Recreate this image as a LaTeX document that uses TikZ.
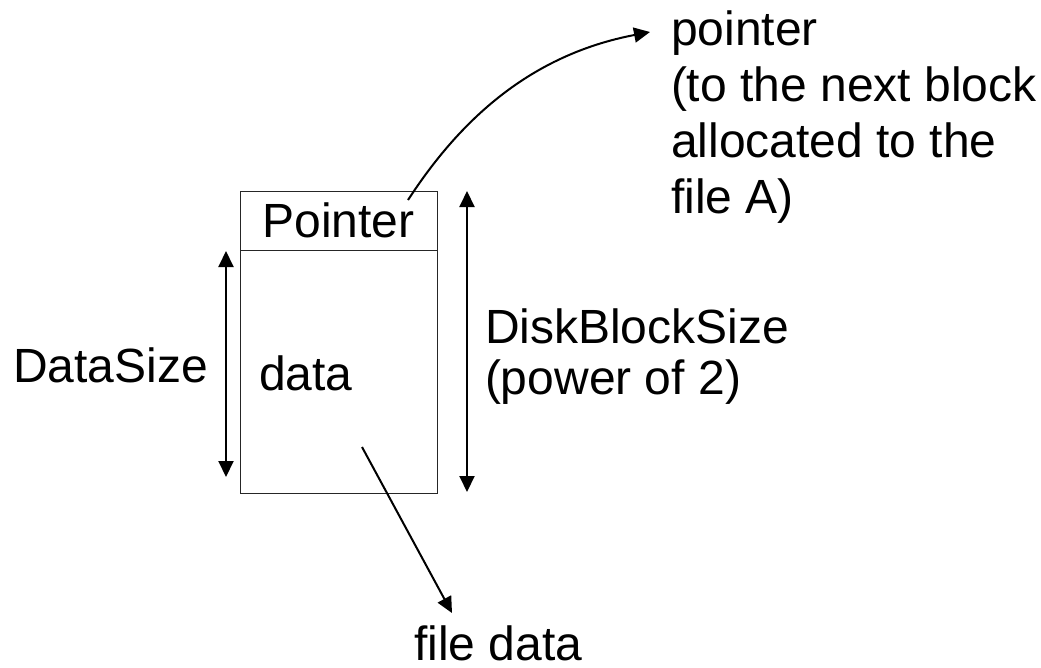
\documentclass[tikz,border=0pt]{standalone}
\usepackage{fontspec}
\setmainfont{Liberation Sans}
\usetikzlibrary{arrows.meta}
\begin{document}
\begin{tikzpicture}[x=1pt,y=-1pt,
  every node/.style={inner sep=0pt, outer sep=0pt, font=\fontsize{48}{56}\selectfont},
  cell/.style={draw=black!85, line width=1pt, minimum width=197pt, anchor=north west},
  label/.style={anchor=base west},
  block/.style={anchor=base west, align=left},
  arrowline/.style={line width=2pt, -{Triangle[length=16pt,width=15pt]}},
  dimline/.style={line width=2pt, {Triangle[length=16pt,width=15pt]}-{Triangle[length=16pt,width=15pt]}}]
  \useasboundingbox[fill=white] (0,0) rectangle (1041,667);

  % the disk block: pointer cell on top of the data cell
  \node[cell, minimum height=59pt] (ptrcell) at (240,191) {Pointer};
  \node[cell, minimum height=243pt] (datacell) at (240,250) {};
  \node[label] (datatext) at (259,390) {data};

  % labels (a multi-line block is placed by the baseline of its last line)
  \node[label] (datasize) at (13,382) {DataSize};
  \node[block, font=\fontsize{48}{51}\selectfont] (dbsize) at (485,394) {DiskBlockSize\\(power of 2)};
  \node[block] (ptrnote) at (671,213) {pointer\\(to the next block\\allocated to the\\file A)};
  \node[label] (filedata) at (414,660) {file data};

  % connector end points
  \coordinate (dsTop) at (226,251);
  \coordinate (dsBot) at (226,477);
  \coordinate (dbTop) at (467,191);
  \coordinate (dbBot) at (467,492);
  \coordinate (ptrFrom) at (408,200);
  \coordinate (ptrTo) at (650,32);
  \coordinate (fdFrom) at (362,447);
  \coordinate (fdTo) at (452,613);

  % size markers
  \draw[dimline] (dsTop) -- (dsBot);
  \draw[dimline] (dbTop) -- (dbBot);

  % pointer to the next block and to the file data
  \draw[arrowline] (ptrFrom) .. controls (460,120) and (530,55) .. (ptrTo);
  \draw[arrowline] (fdFrom) -- (fdTo);
\end{tikzpicture}
\end{document}
